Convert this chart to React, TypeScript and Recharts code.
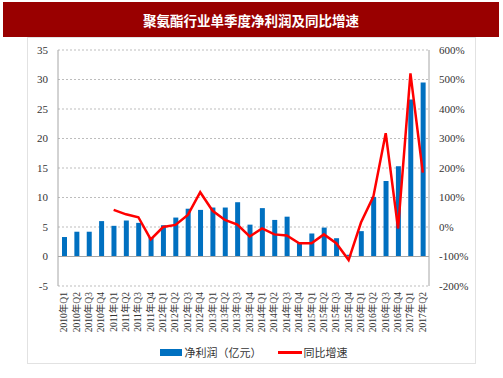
import React from "react";
import {
  ComposedChart,
  Bar,
  Line,
  XAxis,
  YAxis,
  CartesianGrid,
  Legend,
  ReferenceLine,
} from "recharts";

const quarters = [
  "2010年Q1", "2010年Q2", "2010年Q3", "2010年Q4",
  "2011年Q1", "2011年Q2", "2011年Q3", "2011年Q4",
  "2012年Q1", "2012年Q2", "2012年Q3", "2012年Q4",
  "2013年Q1", "2013年Q2", "2013年Q3", "2013年Q4",
  "2014年Q1", "2014年Q2", "2014年Q3", "2014年Q4",
  "2015年Q1", "2015年Q2", "2015年Q3", "2015年Q4",
  "2016年Q1", "2016年Q2", "2016年Q3", "2016年Q4",
  "2017年Q1", "2017年Q2",
];

// 净利润（亿元）
const profit = [
  3.3, 4.2, 4.2, 6.0,
  5.2, 6.1, 5.7, 3.3,
  5.3, 6.6, 8.1, 7.9,
  8.3, 8.3, 9.2, 5.4,
  8.2, 6.2, 6.75, 2.4,
  3.9, 4.9, 3.1, 0.3,
  4.3, 10.1, 12.8, 15.3,
  26.6, 29.5,
];

// 同比增速 (%)
const growth: (number | null)[] = [
  null, null, null, null,
  58, 43, 33, -42,
  0, 7, 41, 118,
  55, 24, 8, -32,
  -5, -25, -29, -55,
  -55, -25, -55, -112,
  15, 103, 318, -5,
  521, 184,
];

const leftTicks = [-5, 0, 5, 10, 15, 20, 25, 30, 35];
const rightTicks = [-200, -100, 0, 100, 200, 300, 400, 500, 600];

const data = quarters.map((q, i) => ({ q, profit: profit[i], growth: growth[i] }));

const serif = "'Liberation Serif', 'Times New Roman', 'Noto Sans CJK SC', serif";
const cjk = "'Noto Sans CJK SC', sans-serif";

const XTick = (props: any) => {
  const { x, y, payload } = props;
  return (
    <text
      x={x}
      y={y}
      transform={`rotate(-90 ${x} ${y})`}
      textAnchor="end"
      dominantBaseline="central"
      fontSize={9.5}
      fill="#333"
      fontFamily={serif}
    >
      {payload.value}
    </text>
  );
};

const LegendBox = () => (
  <div
    style={{
      display: "flex",
      justifyContent: "center",
      alignItems: "center",
      height: 20,
      fontFamily: cjk,
      fontSize: 11,
      color: "#333",
    }}
  >
    <span style={{ display: "inline-block", width: 22, height: 7, background: "#0070C0", marginRight: 3 }} />
    <span>净利润（亿元）</span>
    <span style={{ display: "inline-block", width: 24, height: 3, background: "#FF0000", marginLeft: 16, marginRight: 2 }} />
    <span>同比增速</span>
  </div>
);

export default function App() {
  return (
    <div style={{ position: "absolute", left: 0, top: 0, width: 503, height: 378, background: "#fff" }}>
      <div
        style={{
          position: "absolute",
          left: 3,
          top: 2,
          width: 496,
          height: 35,
          background: "#990000",
          color: "#fff",
          fontFamily: cjk,
          fontWeight: "bold",
          fontSize: 13.5,
          display: "flex",
          alignItems: "center",
          justifyContent: "center",
        }}
      >
        聚氨酯行业单季度净利润及同比增速
      </div>
      <div
        style={{
          position: "absolute",
          left: 27,
          top: 37,
          width: 447,
          height: 325,
          border: "1px solid #e2e2e2",
        }}
      />
      <div style={{ position: "absolute", left: 0, top: 0 }}>
        <ComposedChart
          width={503}
          height={378}
          data={data}
          margin={{ top: 50, right: 14, left: 18, bottom: 16 }}
          barCategoryGap={0}
        >
          <CartesianGrid vertical={false} stroke="#bdbdbd" strokeDasharray="2 2" yAxisId="left" />
          <XAxis
            dataKey="q"
            interval={0}
            height={56}
            axisLine={false}
            tickLine={false}
            tickMargin={0}
            tick={<XTick />}
          />
          <YAxis
            yAxisId="left"
            domain={[-5, 35]}
            ticks={leftTicks}
            width={40}
            axisLine={{ stroke: "#a6a6a6" }}
            tickLine={false}
            tickMargin={4}
            tick={{ fontSize: 11, fill: "#333", fontFamily: serif }}
          />
          <YAxis
            yAxisId="right"
            orientation="right"
            domain={[-200, 600]}
            ticks={rightTicks}
            width={60}
            axisLine={{ stroke: "#a6a6a6" }}
            tickLine={false}
            tickMargin={4}
            tickFormatter={(v: number) => `${v}%`}
            tick={{ fontSize: 11, fill: "#333", fontFamily: serif }}
          />
          <ReferenceLine yAxisId="left" y={0} stroke="#a6a6a6" />
          <Bar yAxisId="left" dataKey="profit" fill="#0070C0" barSize={5} isAnimationActive={false} />
          <Line
            yAxisId="right"
            dataKey="growth"
            stroke="#FF0000"
            strokeWidth={2.5}
            dot={false}
            activeDot={false}
            type="linear"
            isAnimationActive={false}
          />
          <Legend verticalAlign="bottom" content={<LegendBox />} />
        </ComposedChart>
      </div>
    </div>
  );
}
